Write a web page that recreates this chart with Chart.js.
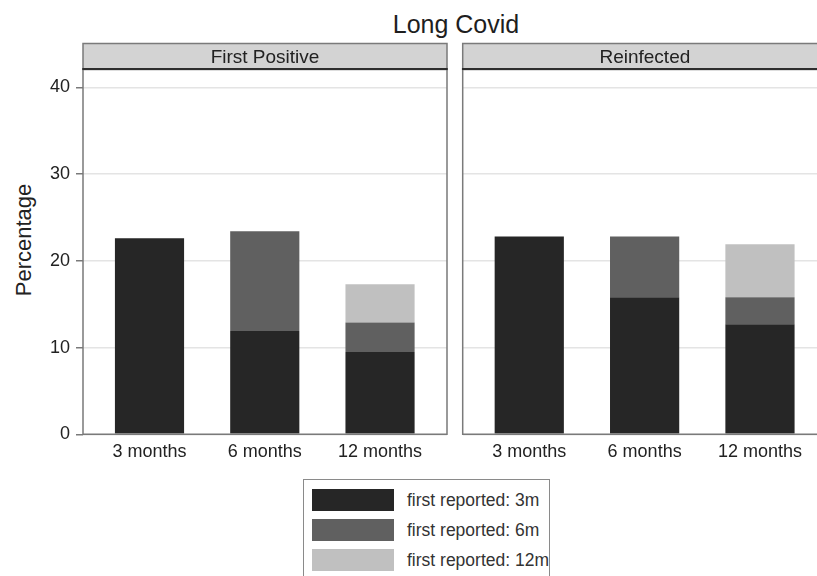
<!DOCTYPE html>
<html>
<head>
<meta charset="utf-8">
<title>Long Covid</title>
<script src="https://cdn.jsdelivr.net/npm/chart.js@4.4.0/dist/chart.umd.min.js"></script>
<style>
  html, body { margin: 0; padding: 0; background: #fff; overflow: hidden; width: 817px; height: 576px; }
  body { position: relative; font-family: "Liberation Sans", Arial, sans-serif; color: #222; }
  #title { position: absolute; left: 0; top: 10px; width: 912px; text-align: center; font-size: 25px; line-height: 28px; color: #1e1e1e; }
  #ytitle { position: absolute; left: -76px; top: 227px; width: 200px; height: 26px; line-height: 26px; text-align: center; font-size: 22px; transform: rotate(-90deg); color: #222; }
  canvas { position: absolute; top: 40px; }
  #left { left: 0; }
  #right { left: 455px; }
  #legend { position: absolute; left: 303px; top: 479px; width: 247px; height: 120px; border: 1px solid #8a8a8a; box-sizing: border-box; }
  .item { position: absolute; left: 8px; height: 22px; }
  .swatch { position: absolute; left: 0; top: 0; width: 82px; height: 22px; }
  .label { position: absolute; left: 95px; top: 0; white-space: nowrap; font-size: 17.5px; line-height: 22px; color: #333; }
</style>
</head>
<body>
<div id="title">Long Covid</div>
<div id="ytitle">Percentage</div>
<canvas id="left" width="455" height="430"></canvas>
<canvas id="right" width="380" height="430"></canvas>
<div id="legend"></div>
<script>
// Follow-up points on the x axis
const periods = ['3 months', '6 months', '12 months'];
// Panel headings
const panelNames = ['First Positive', 'Reinfected'];
// Stack segments: when long covid was first reported
const seriesLabels = ['first reported: 3m', 'first reported: 6m', 'first reported: 12m'];
const seriesColors = ['#262626', '#606060', '#c0c0c0'];

// First Positive panel (percent)
const firstPositive3m = [22.6, 11.9, 9.5];
const firstPositive6m = [null, 11.5, 3.4];
const firstPositive12m = [null, null, 4.4];

// Reinfected panel (percent)
const reinfected3m = [22.8, 15.8, 12.7];
const reinfected6m = [null, 7.0, 3.1];
const reinfected12m = [null, null, 6.1];

// Y axis tick values
const yTicks = [0, 10, 20, 30, 40];

Chart.defaults.font.family = '"Liberation Sans", Arial, sans-serif';
Chart.defaults.color = '#222';

// Grey heading strip above each panel and the frame around the plot region
const panelFrame = {
  id: 'panelFrame',
  afterDraw(chart, args, opts) {
    const { ctx, chartArea: a } = chart;
    const w = a.right - a.left;
    const top = a.top - 26.5, h = 26;
    ctx.save();
    ctx.fillStyle = '#d3d3d3';
    ctx.fillRect(a.left, top, w, h);
    ctx.strokeStyle = '#7a7a7a';
    ctx.lineWidth = 1.5;
    ctx.strokeRect(a.left, top, w, h);
    ctx.strokeStyle = '#2e2e2e';
    ctx.lineWidth = 2;
    ctx.beginPath();
    ctx.moveTo(a.left - 0.75, a.top - 1);
    ctx.lineTo(a.right + 0.75, a.top - 1);
    ctx.stroke();
    ctx.fillStyle = '#222';
    ctx.font = '19px "Liberation Sans", Arial, sans-serif';
    ctx.textAlign = 'center';
    ctx.textBaseline = 'middle';
    ctx.fillText(opts.text, (a.left + a.right) / 2, top + h / 2 + 1);
    // left, bottom and right edges of the plot region
    ctx.strokeStyle = '#7a7a7a';
    ctx.lineWidth = 1.5;
    ctx.beginPath();
    ctx.moveTo(a.left, a.top);
    ctx.lineTo(a.left, a.bottom);
    ctx.lineTo(a.right, a.bottom);
    ctx.lineTo(a.right, a.top);
    ctx.stroke();
    ctx.restore();
  }
};

function makePanel(canvasId, name, series, showY) {
  const datasets = series.map((vals, s) => ({
    label: seriesLabels[s],
    data: vals.map((v, i) => ({ x: i + 1, y: v })),
    backgroundColor: seriesColors[s],
    borderWidth: 0,
    barPercentage: 0.6,
    categoryPercentage: 1
  }));
  return new Chart(document.getElementById(canvasId), {
    type: 'bar',
    data: { datasets },
    options: {
      responsive: false,
      animation: false,
      layout: { padding: { top: 30, right: 8, left: 0, bottom: 0 } },
      plugins: {
        legend: { display: false },
        tooltip: { enabled: false },
        panelFrame: { text: name }
      },
      scales: {
        x: {
          type: 'linear',
          stacked: true,
          offset: false,
          min: 0.423,
          max: 3.581,
          grid: { display: false, drawTicks: false, offset: false },
          border: { display: false },
          afterBuildTicks: s => { s.ticks = periods.map((_, i) => ({ value: i + 1 })); },
          afterFit: s => { s.height = 35.7; },
          ticks: {
            callback: v => periods[v - 1],
            padding: 7,
            color: '#222',
            font: { size: 18 },
            maxRotation: 0,
            autoSkip: false
          }
        },
        y: {
          stacked: true,
          min: 0,
          max: 42,
          afterBuildTicks: s => { s.ticks = yTicks.map(v => ({ value: v })); },
          afterFit: s => { s.width = showY ? 83 : 7.7; },
          grid: {
            color: '#e4e4e4',
            lineWidth: 1.5,
            drawTicks: showY,
            tickLength: 7,
            tickColor: '#7a7a7a',
            tickWidth: 1.5
          },
          border: { display: false },
          ticks: { display: showY, padding: 6, color: '#222', font: { size: 18 } }
        }
      }
    },
    plugins: [panelFrame]
  });
}

makePanel('left', panelNames[0], [firstPositive3m, firstPositive6m, firstPositive12m], true);
makePanel('right', panelNames[1], [reinfected3m, reinfected6m, reinfected12m], false);

// Legend box below the panels
const legend = document.getElementById('legend');
seriesLabels.forEach((lab, s) => {
  const item = document.createElement('div');
  item.className = 'item';
  item.style.top = (9 + s * 30) + 'px';
  const sw = document.createElement('div');
  sw.className = 'swatch';
  sw.style.background = seriesColors[s];
  const tx = document.createElement('div');
  tx.className = 'label';
  tx.textContent = lab;
  item.appendChild(sw);
  item.appendChild(tx);
  legend.appendChild(item);
});
</script>
</body>
</html>
